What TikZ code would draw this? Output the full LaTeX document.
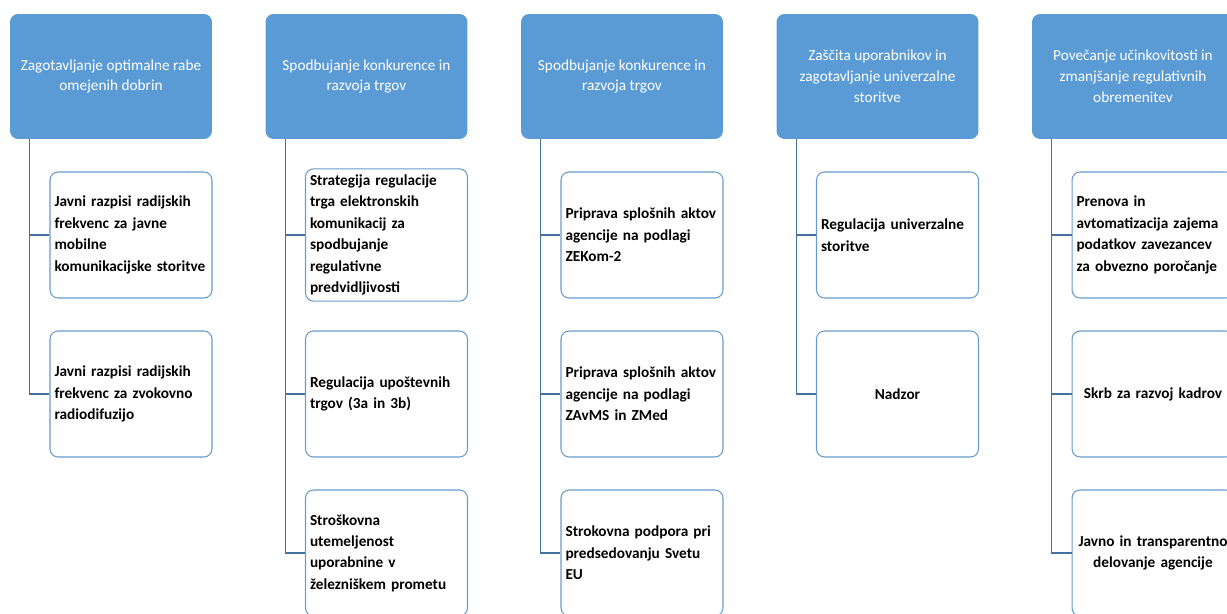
\documentclass[tikz,border=0pt]{standalone}
\usepackage{fontspec}
\setmainfont{Carlito}
\usepackage{tikz}

\definecolor{hdrblue}{RGB}{91,155,213}
\definecolor{boxline}{RGB}{104,156,205}
\definecolor{linkblue}{RGB}{68,114,160}

\tikzset{
  goal/.style={rectangle,rounded corners=0.16cm,fill=hdrblue,text=white,
    minimum width=4.04cm,minimum height=2.5cm,align=center,
    font=\fontsize{8.7}{11.9}\selectfont},
  task/.style={rectangle,rounded corners=0.16cm,draw=boxline,fill=white,line width=0.6pt,
    minimum width=3.24cm,minimum height=2.52cm,text width=3.06cm,inner xsep=0.09cm,
    align=left,font=\bfseries\fontsize{8.7}{12.2}\selectfont},
  taskc/.style={task,align=center},
  link/.style={linkblue,line width=0.6pt}
}

\begin{document}
\begin{tikzpicture}[x=0.02cm,y=-0.02cm]
      \useasboundingbox (0,0) rectangle (1227,614);
      \clip (0,0) rectangle (1227,614);

      \node [goal] (g1) at (111,76.5) {Zagotavljanje optimalne rabe\\omejenih dobrin};
      \node [task] (t11) at (131,235) {Javni razpisi radijskih\\frekvenc za javne\\mobilne\\komunikacijske storitve};
      \node [task] (t12) at (131,394) {Javni razpisi radijskih\\frekvenc za zvokovno\\radiodifuzijo};
      \draw [link] (g1.south west) ++(20,0) |- (t11.west);
      \draw [link] (g1.south west) ++(20,0) |- (t12.west);

      \node [goal] (g2) at (366.5,76.5) {Spodbujanje konkurence in\\razvoja trgov};
      \node [task] (t21) at (386.5,235) {Strategija regulacije\\trga elektronskih\\komunikacij za\\spodbujanje\\regulativne\\predvidljivosti};
      \node [task] (t22) at (386.5,394) {Regulacija upoštevnih\\trgov (3a in 3b)};
      \node [task] (t23) at (386.5,553) {Stroškovna\\utemeljenost\\uporabnine v\\železniškem prometu};
      \draw [link] (g2.south west) ++(20,0) |- (t21.west);
      \draw [link] (g2.south west) ++(20,0) |- (t22.west);
      \draw [link] (g2.south west) ++(20,0) |- (t23.west);

      \node [goal] (g3) at (622,76.5) {Spodbujanje konkurence in\\razvoja trgov};
      \node [task] (t31) at (642,235) {Priprava splošnih aktov\\agencije na podlagi\\ZEKom-2};
      \node [task] (t32) at (642,394) {Priprava splošnih aktov\\agencije na podlagi\\ZAvMS in ZMed};
      \node [task] (t33) at (642,553) {Strokovna podpora pri\\predsedovanju Svetu\\EU};
      \draw [link] (g3.south west) ++(20,0) |- (t31.west);
      \draw [link] (g3.south west) ++(20,0) |- (t32.west);
      \draw [link] (g3.south west) ++(20,0) |- (t33.west);

      \node [goal] (g4) at (877.5,76.5) {Zaščita uporabnikov in\\zagotavljanje univerzalne\\storitve};
      \node [task] (t41) at (897.5,235) {Regulacija univerzalne\\storitve};
      \node [taskc] (t42) at (897.5,394) {Nadzor};
      \draw [link] (g4.south west) ++(20,0) |- (t41.west);
      \draw [link] (g4.south west) ++(20,0) |- (t42.west);

      \node [goal] (g5) at (1133,76.5) {Povečanje učinkovitosti in\\zmanjšanje regulativnih\\obremenitev};
      \node [task] (t51) at (1153,235) {Prenova in\\avtomatizacija zajema\\podatkov zavezancev\\za obvezno poročanje};
      \node [taskc] (t52) at (1153,394) {Skrb za razvoj kadrov};
      \node [taskc] (t53) at (1153,553) {\makebox[3.06cm]{Javno in transparentno}\\delovanje agencije};
      \draw [link] (g5.south west) ++(20,0) |- (t51.west);
      \draw [link] (g5.south west) ++(20,0) |- (t52.west);
      \draw [link] (g5.south west) ++(20,0) |- (t53.west);

    \end{tikzpicture}
\end{document}
